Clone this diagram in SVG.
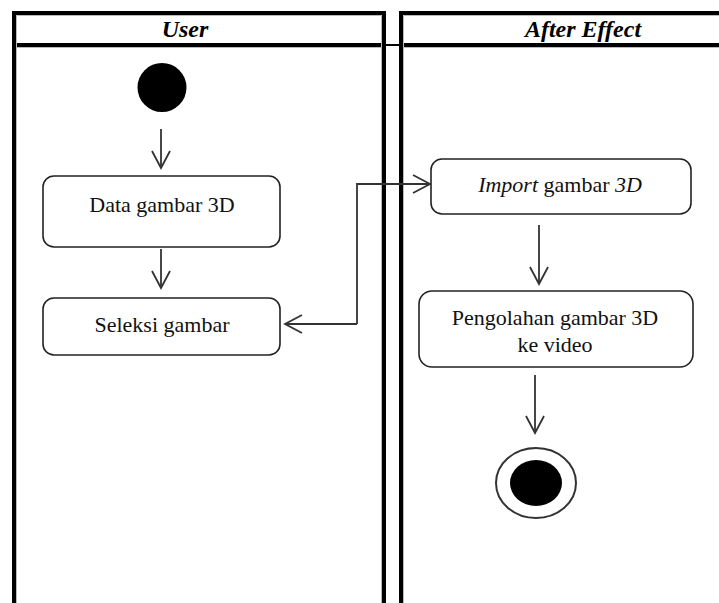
<svg xmlns="http://www.w3.org/2000/svg" width="719" height="603" viewBox="0 0 719 603">
<style>
.lane{fill:none;stroke:#000;stroke-width:4}
.inner{fill:none;stroke:#bbb;stroke-width:1}
.box{fill:#fff;stroke:#222;stroke-width:1.6}
.txt{font-family:'Liberation Serif','Noto Serif','Nimbus Roman','FreeSerif','Times New Roman',Times,'DejaVu Serif',serif;font-size:22px;fill:#111;text-anchor:middle}
.hdr{font-family:'Liberation Serif','Noto Serif','Nimbus Roman','FreeSerif','Times New Roman',Times,'DejaVu Serif',serif;font-size:24px;font-weight:bold;font-style:italic;fill:#000;text-anchor:middle}
.conn{fill:none;stroke:#333;stroke-width:1.8}
</style>
<defs>
<marker id="open" viewBox="0 0 20 20" refX="18" refY="10" markerWidth="20" markerHeight="20" markerUnits="userSpaceOnUse" orient="auto">
<path d="M1,1 L18,10 L1,19" fill="none" stroke="#333" stroke-width="1.8"/>
</marker>
</defs>
<rect width="719" height="603" fill="#fff"/>
<g id="lane-user">
<path class="lane" d="M14,603 V13 H384 V603"/>
<line class="lane" x1="14" y1="45" x2="384" y2="45"/>
<path class="inner" d="M16.5,603 V15.5 H381.5 V603"/>
<line class="inner" x1="16.5" y1="47.5" x2="381.5" y2="47.5"/>
<text class="hdr" x="185" y="37">User</text>
</g>
<g id="lane-aftereffect">
<path class="lane" d="M401,603 V13 H719"/>
<line class="lane" x1="401" y1="45" x2="719" y2="45"/>
<path class="inner" d="M403.5,603 V15.5 H719"/>
<line class="inner" x1="403.5" y1="47.5" x2="719" y2="47.5"/>
<line x1="384" y1="45" x2="401" y2="45" stroke="#000" stroke-width="2"/>
<text class="hdr" x="583" y="37">After Effect</text>
</g>
<g id="connectors">
<line class="conn" x1="161" y1="129" x2="161" y2="168" marker-end="url(#open)"/>
<line class="conn" x1="161" y1="249" x2="161" y2="288" marker-end="url(#open)"/>
<path class="conn" d="M357,324 H285" marker-end="url(#open)"/>
<path class="conn" d="M357,324 V184 H430" marker-end="url(#open)"/>
<line class="conn" x1="539" y1="225" x2="539" y2="284" marker-end="url(#open)"/>
<line class="conn" x1="535" y1="375" x2="535" y2="433" marker-end="url(#open)"/>
</g>
<g id="start">
<circle cx="162" cy="87.5" r="24.5" fill="#000"/>
</g>
<g id="data-gambar">
<rect class="box" x="43" y="176" width="237" height="71" rx="11"/>
<text class="txt" x="162" y="212">Data gambar 3D</text>
</g>
<g id="seleksi-gambar">
<rect class="box" x="43" y="298" width="237" height="57" rx="11"/>
<text class="txt" x="162" y="332">Seleksi gambar</text>
</g>
<g id="import-gambar">
<rect class="box" x="431" y="159" width="260" height="55" rx="11"/>
<text class="txt" x="560" y="192"><tspan font-style="italic">Import</tspan> gambar <tspan font-style="italic">3D</tspan></text>
</g>
<g id="pengolahan">
<rect class="box" x="419" y="291" width="274" height="76" rx="13"/>
<text class="txt" x="555" y="325">Pengolahan gambar 3D</text>
<text class="txt" x="555" y="352">ke video</text>
</g>
<g id="end">
<ellipse cx="536" cy="483" rx="40" ry="35" fill="#fff" stroke="#333" stroke-width="2"/>
<ellipse cx="536" cy="483" rx="26" ry="23" fill="#000"/>
</g>
</svg>
